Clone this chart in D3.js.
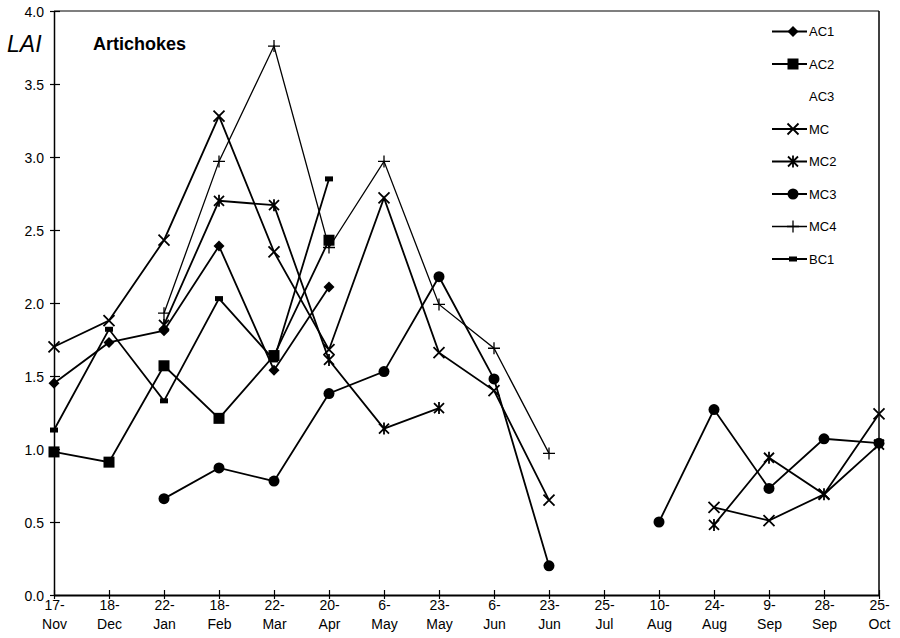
<!DOCTYPE html>
<html>
<head>
<meta charset="utf-8">
<script src="https://cdn.jsdelivr.net/npm/d3@7"></script>
<style>
body { margin: 0; background: #fff; }
svg { font-family: "Liberation Sans", Arial, sans-serif; }
.tick text { font-size: 14px; fill: #000; }
.label { font-size: 13px; fill: #000; }
</style>
</head>
<body>
<script>
var width = 900, height = 638;

// sampling dates (tick labels)
var dates = ["17-Nov","18-Dec","22-Jan","18-Feb","22-Mar","20-Apr","6-May","23-May",
             "6-Jun","23-Jun","25-Jul","10-Aug","24-Aug","9-Sep","28-Sep","25-Oct"];
var yTicks = [0, 0.5, 1, 1.5, 2, 2.5, 3, 3.5, 4];

// LAI values per series (null = no measurement)
var AC1 = [1.45,1.73,1.81,2.39,1.54,2.11,null,null,null,null,null,null,null,null,null,null];
var AC2 = [0.98,0.91,1.57,1.21,1.64,2.43,null,null,null,null,null,null,null,null,null,null];
var AC3 = [null,null,null,null,null,null,null,null,null,null,null,null,null,null,null,null];
var MC  = [1.70,1.88,2.43,3.28,2.35,1.68,2.72,1.66,1.40,0.65,null,null,0.60,0.51,0.69,1.24];
var MC2 = [null,null,1.85,2.70,2.67,1.61,1.14,1.28,null,null,null,null,0.48,0.94,0.69,1.03];
var MC3 = [null,null,0.66,0.87,0.78,1.38,1.53,2.18,1.48,0.20,null,0.50,1.27,0.73,1.07,1.04];
var MC4 = [null,null,1.93,2.97,3.76,2.38,2.97,1.99,1.69,0.97,null,null,null,null,null,null];
var BC1 = [1.13,1.82,1.33,2.03,1.61,2.85,null,null,null,null,null,null,null,null,null,null];

var series = [
    {name:"AC1", values:AC1, marker:"diamond"},
    {name:"AC2", values:AC2, marker:"square"},
    {name:"AC3", values:AC3, marker:"none"},
    {name:"MC",  values:MC,  marker:"x"},
    {name:"MC2", values:MC2, marker:"asterisk"},
    {name:"MC3", values:MC3, marker:"circle"},
    {name:"MC4", values:MC4, marker:"plus"},
    {name:"BC1", values:BC1, marker:"dash"}
];

var plotLeft = 54, plotRight = 879, plotTop = 11, plotBottom = 595;

var svg = d3.select("body").append("svg")
            .attr("width", width).attr("height", height);

var x = d3.scalePoint().domain(dates).range([plotLeft, plotRight]);
var y = d3.scaleLinear().domain([0, 4]).range([plotBottom, plotTop]);

// frame top + right
svg.append("line").attr("x1", plotLeft).attr("x2", plotRight).attr("y1", plotTop).attr("y2", plotTop)
   .attr("stroke", "#000").attr("stroke-width", 1.2);
svg.append("line").attr("x1", plotRight).attr("x2", plotRight).attr("y1", plotTop).attr("y2", plotBottom)
   .attr("stroke", "#000").attr("stroke-width", 1.5);

// y axis
var yAxis = svg.append("g").attr("transform", "translate(" + plotLeft + ",0)")
               .call(d3.axisLeft(y).tickValues(yTicks).tickFormat(d3.format(".1f"))
                        .tickSizeInner(4).tickSizeOuter(0).tickPadding(6));
yAxis.select(".domain").attr("stroke-width", 1.5);
yAxis.selectAll(".tick line").attr("x1", 6).attr("x2", -4).attr("stroke-width", 1.2);
yAxis.selectAll(".tick text").attr("dy", "0.36em");

// x axis
var xAxis = svg.append("g").attr("transform", "translate(0," + plotBottom + ")")
               .call(d3.axisBottom(x).tickSizeInner(4).tickSizeOuter(0));
xAxis.select(".domain").attr("stroke-width", 2.2);
xAxis.selectAll(".tick line").attr("y1", -5).attr("y2", 4).attr("stroke-width", 1.2);
xAxis.selectAll(".tick text").each(function(d){
    var parts = d.split("-");
    var t = d3.select(this).text(null).attr("y", 0).attr("dy", null);
    t.append("tspan").attr("x", 0).attr("y", 15).text(parts[0] + "-");
    t.append("tspan").attr("x", 0).attr("y", 34).text(parts[1]);
});

// titles
svg.append("text").attr("x", 7).attr("y", 52).attr("font-size", 23)
   .attr("font-style", "italic").text("LAI");
svg.append("text").attr("x", 93).attr("y", 50).attr("font-size", 18)
   .attr("font-weight", "bold").text("Artichokes");

function drawMarker(g, type) {
    if (type == "diamond") {
        g.append("path").attr("d", "M0,-5.5L5.5,0L0,5.5L-5.5,0Z").attr("fill", "#000");
    } else if (type == "square") {
        g.append("rect").attr("x", -5.5).attr("y", -5.5).attr("width", 11).attr("height", 11).attr("fill", "#000");
    } else if (type == "circle") {
        g.append("circle").attr("r", 5.5).attr("fill", "#000");
    } else if (type == "x") {
        g.append("path").attr("d", "M-5.5,-5.5L5.5,5.5M-5.5,5.5L5.5,-5.5")
         .attr("stroke", "#000").attr("stroke-width", 1.8);
    } else if (type == "asterisk") {
        g.append("path").attr("d", "M-5,-5L5,5M-5,5L5,-5M0,-6L0,6")
         .attr("stroke", "#000").attr("stroke-width", 1.8);
    } else if (type == "plus") {
        g.append("path").attr("d", "M-6,0L6,0M0,-6L0,6")
         .attr("stroke", "#000").attr("stroke-width", 1.3);
    } else if (type == "dash") {
        g.append("rect").attr("x", -4).attr("y", -2.5).attr("width", 8).attr("height", 5).attr("fill", "#000");
    }
}

var line = d3.line()
             .defined(function(d){ return d.v != null; })
             .x(function(d){ return x(d.date); })
             .y(function(d){ return y(d.v); });

var plot = svg.append("g");
series.forEach(function(s){
    var pts = s.values.map(function(v, i){ return {date: dates[i], v: v}; });
    plot.append("path").datum(pts).attr("d", line)
        .attr("fill", "none").attr("stroke", "#000")
        .attr("stroke-width", s.marker == "plus" ? 1.3 : 1.8);
    pts.filter(function(d){ return d.v != null; }).forEach(function(d){
        var g = plot.append("g").attr("transform", "translate(" + x(d.date) + "," + y(d.v) + ")");
        drawMarker(g, s.marker);
    });
});

// legend
var legend = svg.append("g").selectAll(".legends").data(series).enter()
                .append("g").classed("legends", true)
                .attr("transform", function(d, i){ return "translate(0," + (31.5 + i * 32.5) + ")"; });
legend.each(function(d){
    var g = d3.select(this);
    if (d.marker != "none") {
        g.append("line").attr("x1", 772).attr("x2", 807).attr("y1", 0).attr("y2", 0)
         .attr("stroke", "#000").attr("stroke-width", d.marker == "plus" ? 1.3 : 1.8);
        drawMarker(g.append("g").attr("transform", "translate(793,0)"), d.marker);
    }
    g.append("text").classed("label", true).attr("x", 809).attr("y", 4.6).text(d.name);
});
</script>
</body>
</html>
